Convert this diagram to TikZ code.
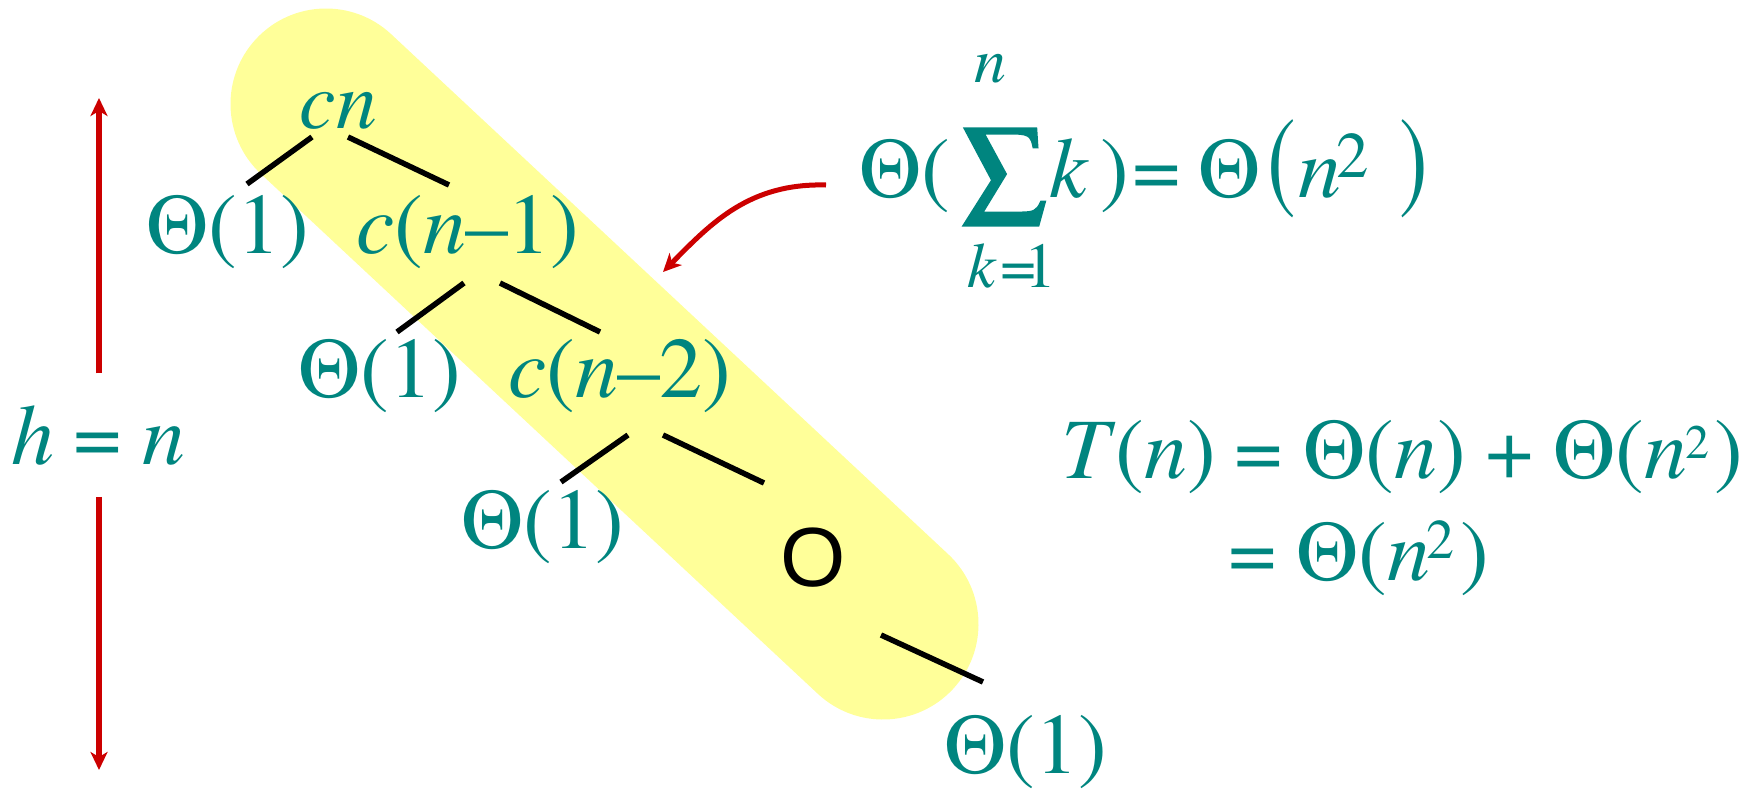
\documentclass[tikz,border=0pt]{standalone}
\usepackage{graphicx}
\usepackage{fontspec}
\setmainfont{texgyretermes-regular.otf}[ItalicFont=texgyretermes-italic.otf]
\newfontfamily\sigfont{texgyretermes-regular.otf}[FakeBold=2.5]
\newfontfamily\sansfam{Liberation Sans}
\usetikzlibrary{arrows.meta}
\definecolor{tealc}{RGB}{0,133,127}
\definecolor{redc}{RGB}{204,0,0}
\definecolor{bandc}{RGB}{255,255,153}
\newcommand\bigf{\fontsize{86}{100}\selectfont}
\newcommand\smf{\fontsize{64}{76}\selectfont}
\begin{document}
\begin{tikzpicture}[x=1pt,y=-1pt,
  lbl/.style={inner sep=0pt, text=tealc, font=\bigf, anchor=base},
  treeedge/.style={line width=5.5pt, black},
  redarr/.style={line width=5.5pt, redc, -{Stealth[length=18pt,width=17pt,inset=5pt]}},
 ]
\useasboundingbox (0,0) rectangle (1753,790);
% highlighted band
\coordinate (bandA) at (326,104);
\coordinate (bandB) at (883,624);
\draw[bandc, line width=191pt, line cap=round] (bandA) -- (bandB);

% tree labels
\node[lbl, font=\fontsize{82}{96}\selectfont] (cn) at (338.5,128) {\textit{cn}};
\node[lbl] (t1) at (228,253) {Θ(1)};
\node[lbl] (c1) at (467.5,253) {\textit{c}(\textit{n}\kern-1pt–\kern-1pt1)};
\node[lbl] (t2) at (379.5,397) {Θ(1)};
\node[lbl] (c2) at (620,397) {\textit{c}(\textit{n}\kern-1pt–\kern-1pt2)};
\node[lbl] (t3) at (543,548) {Θ(1)};
\node[anchor=base, inner sep=0pt, font=\sansfam\fontsize{84}{100}\selectfont] (dots) at (813,586) {O};
\node[lbl] (t4) at (1026,773) {Θ(1)};

% tree edges
\coordinate (e1a) at (312,137); \coordinate (e1b) at (247,184);
\coordinate (e2a) at (348,137); \coordinate (e2b) at (449,185);
\coordinate (e3a) at (464,283); \coordinate (e3b) at (397,332);
\coordinate (e4a) at (500,283); \coordinate (e4b) at (600,332);
\coordinate (e5a) at (628,435); \coordinate (e5b) at (561,482);
\coordinate (e6a) at (663,435); \coordinate (e6b) at (764,483);
\coordinate (e7a) at (881,635); \coordinate (e7b) at (983,682);
\draw[treeedge] (e1a) -- (e1b);
\draw[treeedge] (e2a) -- (e2b);
\draw[treeedge] (e3a) -- (e3b);
\draw[treeedge] (e4a) -- (e4b);
\draw[treeedge] (e5a) -- (e5b);
\draw[treeedge] (e6a) -- (e6b);
\draw[treeedge] (e7a) -- (e7b);

% height arrows
\coordinate (htop) at (99,98);
\coordinate (hbot) at (99,770);
\node[lbl, outer ysep=32pt] (hn) at (98.75,464) {\textit{h}\kern19pt=\kern20pt\textit{n}};
\draw[redarr] (hn.north -| htop) -- (htop);
\draw[redarr] (hn.south -| hbot) -- (hbot);

% sum formula
\node[lbl, anchor=base west] (sumA) at (859,197) {Θ(};
\node[inner sep=0pt, text=tealc] (sig) at (1004.5,177) {\resizebox{84pt}{83pt}{\sigfont\bigf ∑}};
\node[lbl, font=\smf] (sumUp) at (990.5,82) {\textit{n}};
\node[lbl, font=\smf, anchor=base west] (sumLo) at (967,287) {\textit{k}\kern4pt=\kern-12pt1};
\node[lbl, anchor=base west] (sumK) at (1049,197) {\textit{k}};
\node[lbl, anchor=base west] (sumB) at (1100.5,197) {)};
\node[lbl, anchor=base west] (sumEq) at (1132,197) {=\kern18pt Θ};
\node[lbl, anchor=center] (sumP1) at (1281.5,168.5) {\scalebox{1}[1.34]{(}};
\node[lbl, anchor=base west] (sumN) at (1298,197) {\textit{n}\kern-5pt\raisebox{20pt}{\fontsize{65}{76}\selectfont 2}};
\node[lbl, anchor=center] (sumP2) at (1414,168.5) {\scalebox{1}[1.34]{)}};

% arrow from formula to band
\coordinate (cA) at (826,185);
\coordinate (cE) at (663,272);
\draw[redarr, line width=5pt] (cA) .. controls (750,183) and (712,222) .. (cE);

% T(n) formula
\node[lbl, anchor=base west] (Tn) at (1061,478) {\textit{T}(\textit{n})\kern19pt=\kern20.5pt Θ(\textit{n})\kern19pt+\kern20pt Θ(\textit{n}\kern-2pt\raisebox{20pt}{\fontsize{48}{58}\selectfont 2}\kern5pt)};
\node[lbl, anchor=base west] (Tn2) at (1228,580) {=\kern20pt Θ(\textit{n}\kern-4pt\raisebox{22pt}{\fontsize{56}{66}\selectfont 2}\kern6pt)};
\end{tikzpicture}
\end{document}
